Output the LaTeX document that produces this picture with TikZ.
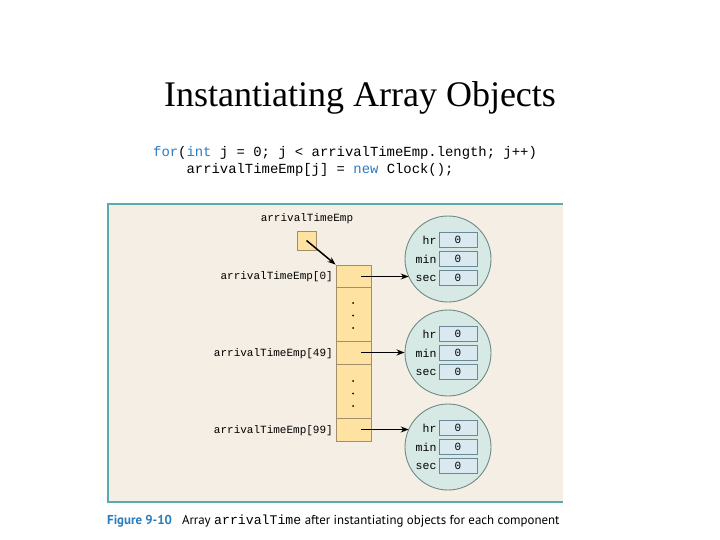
\documentclass[tikz,border=0pt]{standalone}
\usepackage{fontspec}
\setmainfont{Liberation Serif}
\setmonofont{Liberation Mono}
\newfontfamily\capfont{PT Sans}
\usetikzlibrary{arrows.meta}
\definecolor{kw}{HTML}{2F7CC4}
\definecolor{panelbg}{HTML}{F5EEE4}
\definecolor{panelline}{HTML}{5AABB0}
\definecolor{cellfill}{HTML}{FDE2A2}
\definecolor{celldraw}{HTML}{A38E6C}
\definecolor{circfill}{HTML}{D6E9E5}
\definecolor{circdraw}{HTML}{6F8A86}
\definecolor{fieldfill}{HTML}{DAE8EF}
\definecolor{fielddraw}{HTML}{6A8895}
\definecolor{capblue}{HTML}{2B7BBA}
\tikzset{
  cell/.style={draw=celldraw, fill=cellfill, line width=0.9pt, minimum width=35pt, inner sep=0pt},
  lbl/.style={font=\fontsize{11}{12}\selectfont\ttfamily, inner sep=0pt},
  obj/.style={circle, draw=circdraw, fill=circfill, line width=0.9pt, minimum size=86pt, inner sep=0pt},
  field/.style={draw=fielddraw, fill=fieldfill, line width=0.8pt, minimum width=38pt, minimum height=15pt, inner sep=0pt, font=\fontsize{11}{12}\selectfont\ttfamily},
  flbl/.style={font=\fontsize{11.5}{12}\selectfont\ttfamily, inner sep=0pt, anchor=east},
  ptr/.style={-{Stealth[length=8pt,width=6pt]}, line width=1.5pt},
  dot/.style={circle, fill=black, inner sep=0pt, minimum size=2pt}
}
\begin{document}
\begin{tikzpicture}[x=1pt,y=-1pt]
\useasboundingbox (0,0) rectangle (720,540);
\fill[white] (0,0) rectangle (720,540);
% title
\node[anchor=base, inner sep=0pt, font=\fontsize{36}{40}\selectfont] (title) at (360,107) {Instantiating Array Objects};
% code
\node[anchor=base west, inner sep=0pt, font=\fontsize{13.9}{16}\selectfont\ttfamily] (code1) at (153,157) {{\color{kw}for}({\color{kw}int} j = 0; j < arrivalTimeEmp.length; j++)};
\node[anchor=base west, inner sep=0pt, font=\fontsize{13.9}{16}\selectfont\ttfamily] (code2) at (186.4,174) {arrivalTimeEmp[j] = {\color{kw}new} Clock();};
% panel
\fill[panelbg] (108,204) rectangle (563,502);
\draw[panelline, line width=1.8pt] (563,204) -- (108,204) -- (108,502) -- (563,502);
% reference variable
\node[lbl, anchor=base] (reflbl) at (307,222) {arrivalTimeEmp};
\node[cell, minimum width=19pt, minimum height=19pt] (ref) at (306.5,240.5) {};
% array cells
\node[cell, minimum height=22pt] (c0) at (353.5,276) {};
\node[cell, minimum height=54pt] (d1) at (353.5,314) {};
\node[cell, minimum height=23pt] (c49) at (353.5,352.5) {};
\node[cell, minimum height=54pt] (d2) at (353.5,391) {};
\node[cell, minimum height=23pt] (c99) at (353.5,429.5) {};
\foreach \y in {303,315.5,328} \node[dot] at (353,\y) {};
\foreach \y in {381,393.5,406} \node[dot] at (353,\y) {};
\node[lbl, anchor=base east] (l0) at (333,279.5) {arrivalTimeEmp[0]};
\node[lbl, anchor=base east] (l49) at (333,356) {arrivalTimeEmp[49]};
\node[lbl, anchor=base east] (l99) at (333,433) {arrivalTimeEmp[99]};
\draw[ptr] (ref.center) -- (c0.north west);
% objects
\foreach \n/\cy in {o1/259, o2/353, o3/447}{
  \node[obj] (\n) at (448,\cy) {};
  \node[field] (\n hr) at (458,\cy-19) {0};
  \node[field] (\n min) at (458,\cy) {0};
  \node[field] (\n sec) at (458,\cy+19) {0};
  \node[flbl] at ([xshift=-2pt]\n hr.west) {hr};
  \node[flbl] at ([xshift=-2pt]\n min.west) {min};
  \node[flbl] at ([xshift=-2pt]\n sec.west) {sec};
}
\coordinate (s0) at (361,276.5);
\coordinate (s49) at (361,352.5);
\coordinate (s99) at (361,429.5);
\coordinate (e0) at ({448-sqrt(43*43-17.5*17.5)},276.5);
\coordinate (e99) at ({448-sqrt(43*43-17.5*17.5)},429.5);
\draw[ptr] (s0) -- (e0);
\draw[ptr] (s49) -- (o2.west |- s49);
\draw[ptr] (s99) -- (e99);
% caption
\node[anchor=base west, inner sep=0pt, font=\fontsize{12.9}{14}\selectfont\capfont] (cap) at (107,524) {{\color{capblue}\bfseries Figure 9-10}\hspace{10pt}Array {\fontsize{13.2}{14}\selectfont\ttfamily arrivalTime} after instantiating objects for each component};
\end{tikzpicture}
\end{document}
